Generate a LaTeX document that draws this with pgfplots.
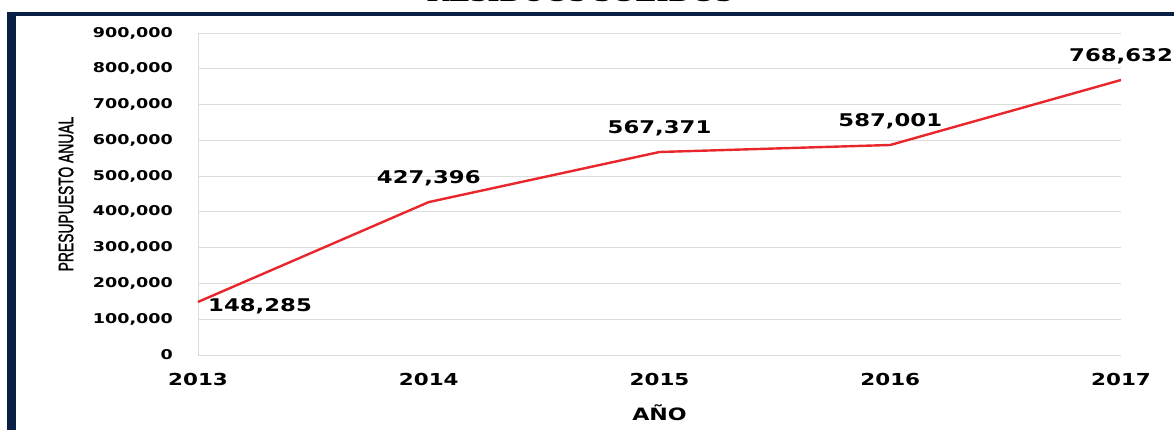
\documentclass[border=0pt]{standalone}
\usepackage{fontspec}
\usepackage{pgfplots}
\pgfplotsset{compat=1.18}
\newfontfamily\tickfont[FakeStretch=1.3]{DejaVu Sans Bold}
\newfontfamily\narrowfont[FakeStretch=0.66,FakeBold=1.2]{Liberation Sans}
\newfontfamily\titlefont[FakeStretch=1.3]{Liberation Serif Bold}
\definecolor{navy}{HTML}{0A1F44}
\definecolor{linered}{HTML}{E8262B}
\definecolor{gridgray}{HTML}{DCDCDC}
\begin{document}
\begin{tikzpicture}
\path[use as bounding box] (-198pt,-75pt) rectangle (976pt,355pt);
\clip (-198pt,-75pt) rectangle (976pt,355pt);
\fill[navy] (-191pt,-80pt) rectangle (-182pt,343pt);
\fill[navy] (-191pt,339pt) rectangle (990pt,343pt);
\node[anchor=base, inner sep=0pt] at (382pt,353pt) {\titlefont\fontsize{24}{26}\selectfont RESIDUOS SOLIDOS};
\begin{axis}[
  at={(0pt,0pt)}, anchor=south west,
  scale only axis, width=923pt, height=322pt,
  xmin=2013, xmax=2017, ymin=0, ymax=900000,
  xtick={2013,2014,2015,2016,2017},
  xticklabels={2013,2014,2015,2016,2017},
  ytick={0,100000,...,900000},
  scaled y ticks=false,
  /pgf/number format/.cd, fixed, precision=0, 1000 sep={,}, assume math mode=true,
  /pgfplots/.cd,
  axis lines=left,
  axis line style={draw=gridgray, -},
  major tick length=0pt,
  ymajorgrids,
  major grid style={gridgray, line width=0.8pt},
  yticklabel style={font=\tickfont\fontsize{13.5}{15}\selectfont, anchor=east, inner sep=0pt, xshift=-25pt},
  xticklabel style={font=\tickfont\fontsize{16.5}{18}\selectfont, anchor=center, inner sep=0pt, yshift=-24pt},
  ylabel={PRESUPUESTO ANUAL},
  ylabel style={font=\narrowfont\fontsize{21}{23}\selectfont, at={(axis description cs:0,0.5)}, anchor=center, yshift=132pt, inner sep=0pt},
  xlabel={AÑO},
  xlabel style={font=\tickfont\fontsize{17}{19}\selectfont, at={(axis description cs:0.5,0)}, anchor=center, yshift=-58pt, inner sep=0pt},
  clip=false,
]
\addplot[linered, line width=2.4pt, mark=none] coordinates {
  (2013,148285) (2014,427396) (2015,567371) (2016,587001) (2017,768632)
};
\addplot[draw=none, mark=none, point meta=explicit symbolic,
  nodes near coords,
  nodes near coords style={font=\tickfont\fontsize{17.5}{19}\selectfont, anchor=south, inner sep=0pt, yshift=16pt, text=black}]
  coordinates {
  (2014,427396) [427,396]
  (2015,567371) [567,371]
  (2016,587001) [587,001]
  (2017,768632) [768,632]
};
\addplot[draw=none, mark=none, point meta=explicit symbolic,
  nodes near coords,
  nodes near coords style={font=\tickfont\fontsize{17.5}{19}\selectfont, anchor=west, inner sep=0pt, xshift=10pt, yshift=-4pt, text=black}]
  coordinates {
  (2013,148285) [148,285]
};
\end{axis}
\end{tikzpicture}
\end{document}
